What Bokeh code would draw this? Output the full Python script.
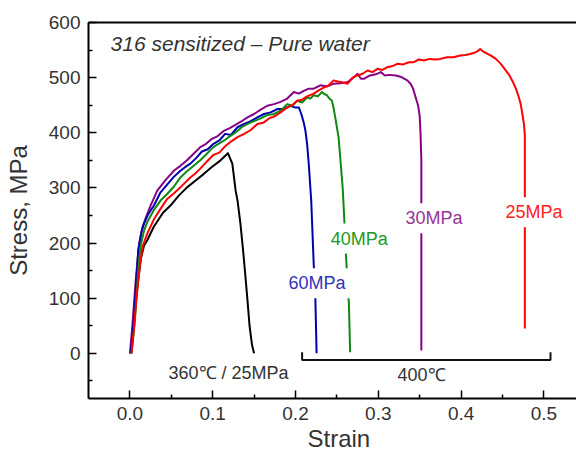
from bokeh.plotting import figure
from bokeh.models import Range1d, FixedTicker, NumeralTickFormatter, LinearAxis, Label, Title
from bokeh.embed import file_html
from bokeh.resources import INLINE

# ---------------- data ----------------
strain_360_25 = [0.001, 0.005, 0.009, 0.013, 0.017, 0.021, 0.029, 0.040, 0.049, 0.059, 0.069, 0.079,
                 0.089, 0.099, 0.1095, 0.1184, 0.1237, 0.1277, 0.1300, 0.1335, 0.1365, 0.1395, 0.1418,
                 0.1445, 0.1475, 0.1500]
stress_360_25 = [0, 60, 120, 170, 195, 205, 230, 255, 268, 286, 301, 313,
                 325, 338, 350, 363, 344, 295, 277, 235, 190, 140, 100,
                 50, 15, 0]

strain_30 = [0.000, 0.003, 0.007, 0.011, 0.015, 0.019, 0.025, 0.033, 0.043, 0.053, 0.061, 0.069, 0.077,
             0.085, 0.092, 0.098, 0.106, 0.114, 0.120, 0.126, 0.134, 0.142, 0.150, 0.158, 0.166, 0.174,
             0.182, 0.190, 0.198, 0.204, 0.210, 0.216, 0.222, 0.230, 0.238, 0.246, 0.254, 0.263, 0.270,
             0.275, 0.279, 0.283, 0.290, 0.297, 0.303, 0.308, 0.313, 0.321, 0.328, 0.335, 0.339, 0.342,
             0.345, 0.348, 0.350, 0.351, 0.352, 0.352]
stress_30 = [0, 50, 132, 198, 228, 245, 268, 295, 314, 331, 340, 350, 362,
             374, 380, 388, 394, 404, 408, 413, 420, 428, 434, 442, 449, 452,
             456, 462, 474, 471, 476, 480, 480, 486, 484, 489, 490, 492, 500,
             507, 498, 498, 504, 506, 510, 504, 505, 504, 501, 495, 489, 480,
             465, 450, 430, 400, 350, 5]

strain_60 = [0.001, 0.005, 0.010, 0.014, 0.017, 0.022, 0.029, 0.037, 0.045, 0.053, 0.061, 0.067, 0.073,
             0.080, 0.087, 0.094, 0.101, 0.108, 0.115, 0.122, 0.130, 0.138, 0.146, 0.154, 0.162, 0.170,
             0.178, 0.186, 0.194, 0.199, 0.204, 0.207, 0.210, 0.212, 0.214, 0.216, 0.219, 0.222, 0.224,
             0.2255]
stress_60 = [0, 65, 186, 220, 235, 252, 268, 292, 306, 320, 331, 338, 344,
             354, 366, 370, 380, 386, 398, 396, 410, 416, 421, 428, 434, 437,
             443, 443, 449, 446, 446, 434, 418, 404, 380, 344, 277, 162, 99,
             0]

strain_40 = [0.002, 0.006, 0.010, 0.013, 0.017, 0.021, 0.029, 0.037, 0.045, 0.053, 0.061, 0.069, 0.077,
             0.085, 0.093, 0.100, 0.107, 0.114, 0.121, 0.128, 0.135, 0.142, 0.150, 0.158, 0.166, 0.174,
             0.182, 0.190, 0.196, 0.202, 0.208, 0.214, 0.218, 0.222, 0.227, 0.232, 0.235, 0.238, 0.241,
             0.244, 0.246, 0.248, 0.250, 0.252, 0.254, 0.257, 0.259, 0.261, 0.2625, 0.2645, 0.266]
stress_40 = [0, 60, 150, 195, 222, 238, 260, 277, 289, 302, 319, 330, 340,
             350, 362, 373, 380, 386, 394, 401, 410, 416, 421, 426, 432, 434,
             440, 452, 449, 458, 455, 464, 462, 468, 466, 474, 470, 468, 462,
             458, 445, 428, 410, 392, 356, 300, 241, 177, 138, 90, 2]

strain_25 = [0.002, 0.005, 0.008, 0.011, 0.015, 0.021, 0.029, 0.037, 0.045, 0.053, 0.061, 0.067, 0.073,
             0.079, 0.085, 0.093, 0.101, 0.108, 0.114, 0.122, 0.130, 0.138, 0.146, 0.154, 0.161, 0.168,
             0.175, 0.182, 0.189, 0.196, 0.202, 0.208, 0.214, 0.222, 0.228, 0.234, 0.240, 0.246, 0.251,
             0.257, 0.263, 0.269, 0.275, 0.281, 0.287, 0.293, 0.299, 0.305, 0.311, 0.317, 0.323, 0.330,
             0.337, 0.343, 0.349, 0.355, 0.362, 0.369, 0.375, 0.383, 0.391, 0.399, 0.405, 0.411, 0.416,
             0.420, 0.423, 0.427, 0.432, 0.436, 0.442, 0.448, 0.453, 0.458, 0.462, 0.466, 0.469, 0.472,
             0.474, 0.476, 0.477, 0.477, 0.477]
stress_25 = [0, 45, 100, 144, 192, 217, 243, 262, 280, 290, 301, 310, 319,
             326, 335, 348, 360, 364, 374, 384, 392, 398, 405, 416, 418, 426,
             430, 437, 445, 450, 458, 460, 466, 471, 477, 482, 486, 495, 493,
             491, 489, 500, 504, 507, 513, 510, 516, 514, 519, 521, 525, 524,
             528, 528, 533, 531, 534, 533, 534, 537, 537, 540, 541, 543, 545,
             548, 552, 547, 543, 540, 534, 525, 515, 505, 494, 481, 468, 452,
             434, 415, 395, 300, 45]

x_ticks = [0.0, 0.1, 0.2, 0.3, 0.4, 0.5]
x_minor = [0.05, 0.15, 0.25, 0.35, 0.45]
y_ticks = [0, 100, 200, 300, 400, 500, 600]
y_minor = [-50, 50, 150, 250, 350, 450, 550]

bracket_x = [0.208, 0.208, 0.508, 0.508]
bracket_y = [2, -12, -12, 2]

# ---------------- figure ----------------
FONT = "Liberation Sans"
TXT = "#333333"

p = figure(width=576, height=452, output_backend="svg", toolbar_location=None,
           x_range=Range1d(-0.05, 0.5394), y_range=Range1d(-82, 600),
           min_border_left=88, min_border_right=0, min_border_top=22, min_border_bottom=54)
p.outline_line_color = None
p.xgrid.visible = False
p.ygrid.visible = False
p.background_fill_color = "white"
p.border_fill_color = "white"

for ax, ticks, minor, fmt in ((p.xaxis[0], x_ticks, x_minor, "0.0"), (p.yaxis[0], y_ticks, y_minor, "0")):
    ax.ticker = FixedTicker(ticks=ticks, minor_ticks=minor)
    ax.formatter = NumeralTickFormatter(format=fmt)
    ax.axis_line_color = "black"
    ax.axis_line_width = 2
    ax.major_tick_in = 8
    ax.major_tick_out = 0
    ax.minor_tick_in = 4
    ax.minor_tick_out = 0
    ax.major_tick_line_color = "black"
    ax.minor_tick_line_color = "black"
    ax.major_tick_line_width = 1.5
    ax.minor_tick_line_width = 1.5
    ax.major_label_text_font = FONT
    ax.major_label_text_font_size = "19px"
    ax.major_label_text_color = TXT
    ax.major_label_standoff = 8

p.yaxis[0].axis_label = "Stress, MPa"
p.yaxis[0].axis_label_text_font = FONT
p.yaxis[0].axis_label_text_font_size = "24px"
p.yaxis[0].axis_label_text_font_style = "normal"
p.yaxis[0].axis_label_text_color = TXT
p.yaxis[0].axis_label_standoff = 14

top = LinearAxis(ticker=FixedTicker(ticks=[]), major_tick_in=0, major_tick_out=0,
                 minor_tick_in=0, minor_tick_out=0, major_label_standoff=0,
                 axis_line_color="black", axis_line_width=2)
p.add_layout(top, "above")

xt = Title(text="Strain", align="left", offset=219, text_font=FONT, text_font_size="24px",
           text_font_style="normal", text_color=TXT, standoff=0)
p.add_layout(xt, "below")

# curves
p.line(strain_360_25, stress_360_25, line_color="black", line_width=2, line_join="round")
p.line(strain_30, stress_30, line_color="#880088", line_width=2, line_join="round")
p.line(strain_60, stress_60, line_color="#0000b0", line_width=2, line_join="round")
p.line(strain_40, stress_40, line_color="#118811", line_width=2, line_join="round")
p.line(strain_25, stress_25, line_color="#ff0000", line_width=2, line_join="round")

# bracket for 400 C group
p.line(bracket_x, bracket_y, line_color="#111111", line_width=2)

def lab(x, y, text, color=TXT, size="18px", style="normal", align="left", bg=None):
    kw = dict(x=x, y=y, text=text, text_font=FONT, text_font_size=size, text_color=color,
              text_font_style=style, text_align=align, text_baseline="middle")
    if bg:
        kw.update(background_fill_color=bg, padding=5)
    p.add_layout(Label(**kw))

lab(-0.0233, 562, "316 sensitized \u2013 Pure water", size="21px", style="italic")
lab(0.0467, -35, "360\u2103 / 25MPa")
lab(0.3233, -40, "400\u2103")
lab(0.1856, 127, "60MPa", color="#3333bb", bg="white")
lab(0.2364, 208, "40MPa", color="#229922", bg="white")
lab(0.3269, 245, "30MPa", color="#993399", bg="white")
lab(0.4477, 256, "25MPa", color="#ff2020", bg="white")

open("out.html", "w").write(file_html(p, INLINE))
